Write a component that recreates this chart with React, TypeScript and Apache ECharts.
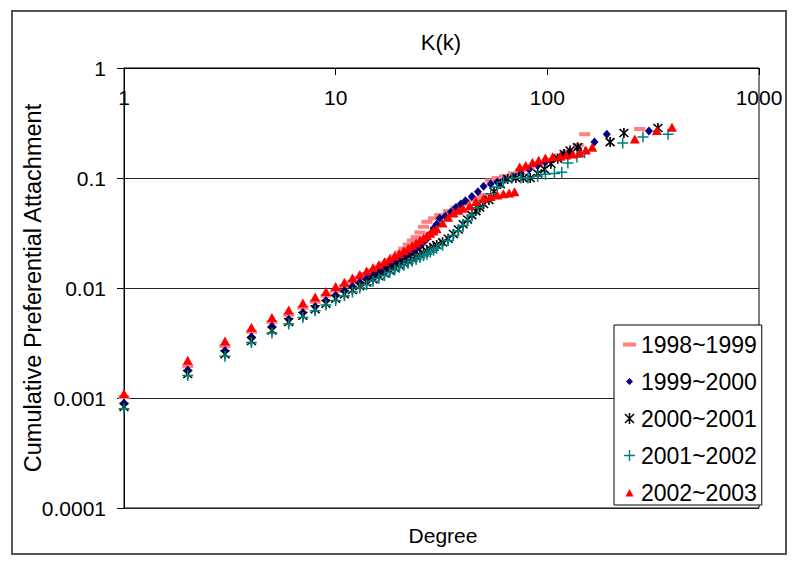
import React, { useEffect, useRef } from "react";
import * as echarts from "echarts";

const FONT = "'Liberation Sans', Arial, sans-serif";

const seriesNames = ["1998~1999", "1999~2000", "2000~2001", "2001~2002", "2002~2003"];
const seriesColors = ["#FF8080", "#000080", "#000000", "#008080", "#FF0000"];
const xTickLabels = ["1", "10", "100", "1000"];
const yTickLabels = ["0.0001", "0.001", "0.01", "0.1", "1"];
const chartTitle = "K(k)";
const xAxisTitle = "Degree";
const yAxisTitle = "Cumulative Preferential Attachment";

// 1998~1999
const deg9899 = [1, 2, 3, 4, 5, 6, 7, 8, 9, 10, 11, 12, 13, 14, 15, 16, 17, 18, 19, 20, 21, 22, 23, 24, 25, 26, 27, 29, 31, 34, 37, 40, 44, 47, 50, 54, 58, 63, 69, 75, 82, 90, 100, 112, 125, 140, 150, 273];
const val9899 = [0.00102, 0.00195, 0.00297, 0.004, 0.0049, 0.0057, 0.0066, 0.0075, 0.0085, 0.0094, 0.0104, 0.0114, 0.0124, 0.0134, 0.0144, 0.0155, 0.0167, 0.018, 0.0195, 0.021, 0.0228, 0.0248, 0.027, 0.029, 0.032, 0.036, 0.04, 0.043, 0.046, 0.05, 0.054, 0.058, 0.063, 0.066, 0.07, 0.095, 0.1, 0.104, 0.11, 0.118, 0.126, 0.135, 0.145, 0.16, 0.175, 0.2, 0.25, 0.279];

// 1999~2000
const deg9900 = [1, 2, 3, 4, 5, 6, 7, 8, 9, 10, 11, 12, 13, 14, 15, 16, 17, 18, 19, 20, 21, 22, 23, 24, 25, 26, 27, 28, 29, 30, 31, 33, 35, 37, 39, 41, 44, 47, 50, 54, 58, 63, 69, 75, 82, 90, 98, 107, 117, 128, 140, 167, 191, 302];
const val9900 = [0.0009, 0.0018, 0.0027, 0.0036, 0.0045, 0.0052, 0.006, 0.0068, 0.0077, 0.0086, 0.0095, 0.0104, 0.0113, 0.0122, 0.0131, 0.014, 0.0149, 0.0158, 0.0168, 0.0178, 0.0189, 0.02, 0.0212, 0.0225, 0.024, 0.026, 0.028, 0.031, 0.035, 0.038, 0.043, 0.045, 0.049, 0.054, 0.058, 0.062, 0.068, 0.075, 0.084, 0.088, 0.092, 0.097, 0.102, 0.11, 0.12, 0.13, 0.14, 0.15, 0.16, 0.17, 0.185, 0.213, 0.25, 0.268];

// 2000~2001
const deg0001 = [1, 2, 3, 4, 5, 6, 7, 8, 9, 10, 11, 12, 13, 14, 15, 16, 17, 18, 19, 20, 21, 22, 23, 24, 25, 26, 27, 28, 29, 30, 32, 34, 36, 38, 40, 42, 44, 46, 48, 50, 53, 56, 60, 65, 71, 77, 83, 90, 97, 104, 112, 120, 128, 139, 198, 230, 333];
const val0001 = [0.00083, 0.00165, 0.0025, 0.0033, 0.0041, 0.0049, 0.0056, 0.0064, 0.0072, 0.008, 0.0088, 0.0096, 0.0104, 0.0112, 0.012, 0.0128, 0.0136, 0.0144, 0.0152, 0.016, 0.0168, 0.0176, 0.0184, 0.0192, 0.02, 0.0208, 0.0217, 0.0226, 0.0236, 0.0246, 0.026, 0.028, 0.031, 0.034, 0.038, 0.042, 0.046, 0.05, 0.054, 0.058, 0.063, 0.075, 0.088, 0.098, 0.1, 0.1, 0.1, 0.11, 0.12, 0.135, 0.15, 0.165, 0.178, 0.19, 0.212, 0.257, 0.285];

// 2001~2002
const deg0102 = [1, 2, 3, 4, 5, 6, 7, 8, 9, 10, 11, 12, 13, 14, 15, 16, 17, 18, 19, 20, 21, 22, 23, 24, 25, 26, 27, 28, 29, 30, 32, 34, 36, 38, 40, 42, 44, 47, 50, 54, 58, 62, 68, 75, 81, 90, 98, 108, 117, 125, 138, 150, 227, 283, 372];
const val0102 = [0.0008, 0.0016, 0.0024, 0.0032, 0.0039, 0.0047, 0.0054, 0.0062, 0.007, 0.0077, 0.0085, 0.0092, 0.01, 0.0107, 0.0115, 0.0122, 0.013, 0.0138, 0.0146, 0.0154, 0.0161, 0.0168, 0.0175, 0.0182, 0.0189, 0.0196, 0.0203, 0.0211, 0.022, 0.023, 0.0245, 0.027, 0.03, 0.033, 0.037, 0.041, 0.046, 0.054, 0.062, 0.072, 0.083, 0.092, 0.1, 0.1, 0.1, 0.104, 0.108, 0.11, 0.113, 0.137, 0.155, 0.17, 0.208, 0.236, 0.25];

// 2002~2003
const deg0203 = [1, 2, 3, 4, 5, 6, 7, 8, 9, 10, 11, 12, 13, 14, 15, 16, 17, 18, 19, 20, 21, 22, 23, 24, 25, 26, 27, 28, 29, 30, 32, 34, 36, 38, 40, 43, 46, 50, 54, 58, 62, 66, 70, 74, 79, 85, 91, 98, 106, 115, 123, 132, 142, 152, 163, 259, 329, 388];
const val0203 = [0.0011, 0.0022, 0.0033, 0.0044, 0.0054, 0.0063, 0.0073, 0.0083, 0.0093, 0.0103, 0.0113, 0.0123, 0.0133, 0.0143, 0.0153, 0.0163, 0.0173, 0.0184, 0.0195, 0.0206, 0.0218, 0.023, 0.0243, 0.0256, 0.027, 0.0285, 0.03, 0.0315, 0.033, 0.0345, 0.039, 0.044, 0.048, 0.051, 0.053, 0.056, 0.061, 0.065, 0.068, 0.07, 0.072, 0.073, 0.075, 0.126, 0.13, 0.138, 0.145, 0.152, 0.156, 0.158, 0.162, 0.165, 0.17, 0.18, 0.19, 0.226, 0.27, 0.29];

const degrees = [deg9899, deg9900, deg0001, deg0102, deg0203];
const values = [val9899, val9900, val0001, val0102, val0203];

const ASTERISK =
  "path://M4.25,0 L5.75,0 L5.75,10 L4.25,10 Z " +
  "M0.47,1.53 L1.53,0.47 L9.53,8.47 L8.47,9.53 Z " +
  "M8.47,0.47 L9.53,1.53 L1.53,9.53 L0.47,8.47 Z";
const PLUS =
  "path://M4.3,0 L5.7,0 L5.7,4.3 L10,4.3 L10,5.7 L5.7,5.7 L5.7,10 L4.3,10 L4.3,5.7 L0,5.7 L0,4.3 L4.3,4.3 Z";

const seriesSymbols: any[] = ["rect", "diamond", ASTERISK, PLUS, "triangle"];
const seriesSizes: any[] = [[11, 4], [8, 9], 10, 11, [10, 9]];

const SPECKS = "M0,0 L0.01,0 L0,0.01 Z M13,13 L12.99,13 L13,12.99 Z ";
const legendIcons = [
  "path://" + SPECKS + "M0,4.5 L13,4.5 L13,8.5 L0,8.5 Z",
  "path://" + SPECKS + "M6.5,3 L10,6.5 L6.5,10 L3,6.5 Z",
  "path://" + SPECKS +
    "M5.75,1 L7.25,1 L7.25,12 L5.75,12 Z " +
    "M1.47,2.53 L2.53,1.47 L11.53,10.47 L10.47,11.53 Z " +
    "M10.47,1.47 L11.53,2.53 L2.53,11.53 L1.47,10.47 Z",
  "path://" + SPECKS +
    "M5.8,1 L7.2,1 L7.2,5.8 L12,5.8 L12,7.2 L7.2,7.2 L7.2,12 L5.8,12 L5.8,7.2 L1,7.2 L1,5.8 L5.8,5.8 Z",
  "path://" + SPECKS + "M6.5,3 L10.5,10.5 L2.5,10.5 Z",
];

export default function App() {
  const ref = useRef<HTMLDivElement>(null);
  useEffect(() => {
    if (!ref.current) return;
    const chart = echarts.init(ref.current, null, { renderer: "svg" });
    const option: any = {
      animation: false,
      backgroundColor: "#fff",
      textStyle: { fontFamily: FONT },
      grid: {
        left: 124,
        top: 68,
        right: 41,
        bottom: 61,
        show: true,
        borderColor: "#000",
        borderWidth: 1,
        backgroundColor: "transparent",
      },
      xAxis: {
        type: "log",
        logBase: 10,
        min: 1,
        max: 1000,
        position: "top",
        axisLine: { show: true, lineStyle: { color: "#000", width: 1 } },
        axisTick: { show: true, inside: true, length: 7, lineStyle: { color: "#000" } },
        axisLabel: {
          inside: true,
          margin: 19,
          fontSize: 21,
          fontFamily: FONT,
          color: "#000",
          formatter: (v: number) => xTickLabels[Math.round(Math.log10(v))] ?? String(v),
        },
        splitLine: { show: false },
      },
      yAxis: {
        type: "log",
        logBase: 10,
        min: 0.0001,
        max: 1,
        axisLine: { show: true, lineStyle: { color: "#000", width: 1 } },
        axisTick: { show: true, inside: false, length: 7, lineStyle: { color: "#000" } },
        axisLabel: {
          margin: 18,
          fontSize: 21,
          fontFamily: FONT,
          color: "#000",
          formatter: (v: number) => yTickLabels[Math.round(Math.log10(v)) + 4] ?? String(v),
        },
        splitLine: { show: true, lineStyle: { color: "#222", width: 1 } },
      },
      legend: {
        orient: "vertical",
        left: 614,
        top: 325,
        backgroundColor: "#fff",
        borderColor: "#000",
        borderWidth: 1,
        padding: [8, 5, 1, 9],
        itemWidth: 13,
        itemHeight: 13,
        itemGap: 14,
        selectedMode: false,
        textStyle: { fontSize: 23, fontFamily: FONT, color: "#000", lineHeight: 22 },
        data: seriesNames.map((n, i) => ({ name: n, icon: legendIcons[i] })),
      },
      series: seriesNames.map((name, i) => ({
        name,
        type: "scatter",
        symbol: seriesSymbols[i],
        symbolSize: seriesSizes[i],
        itemStyle: { color: seriesColors[i], opacity: 1 },
        silent: true,
        data: degrees[i].map((d, j) => [d, values[i][j]]),
      })),
      graphic: [
        {
          type: "rect",
          shape: { x: 12, y: 11, width: 774, height: 543 },
          style: { fill: "none", stroke: "#555", lineWidth: 2 },
          silent: true,
        },
        {
          type: "text",
          x: 441,
          y: 42,
          style: {
            text: chartTitle,
            fontSize: 22,
            fontFamily: FONT,
            fill: "#000",
            textAlign: "center",
            textVerticalAlign: "middle",
          },
        },
        {
          type: "text",
          x: 443,
          y: 535,
          style: {
            text: xAxisTitle,
            fontSize: 21,
            fontFamily: FONT,
            fill: "#000",
            textAlign: "center",
            textVerticalAlign: "middle",
          },
        },
        {
          type: "text",
          x: 33,
          y: 288,
          rotation: Math.PI / 2,
          style: {
            text: yAxisTitle,
            fontSize: 23.5,
            fontFamily: FONT,
            fill: "#000",
            textAlign: "center",
            textVerticalAlign: "middle",
          },
        },
      ],
    };
    chart.setOption(option);
    return () => chart.dispose();
  }, []);
  return (
    <div
      ref={ref}
      style={{ position: "fixed", left: 0, top: 0, width: 800, height: 569, background: "#fff" }}
    />
  );
}
